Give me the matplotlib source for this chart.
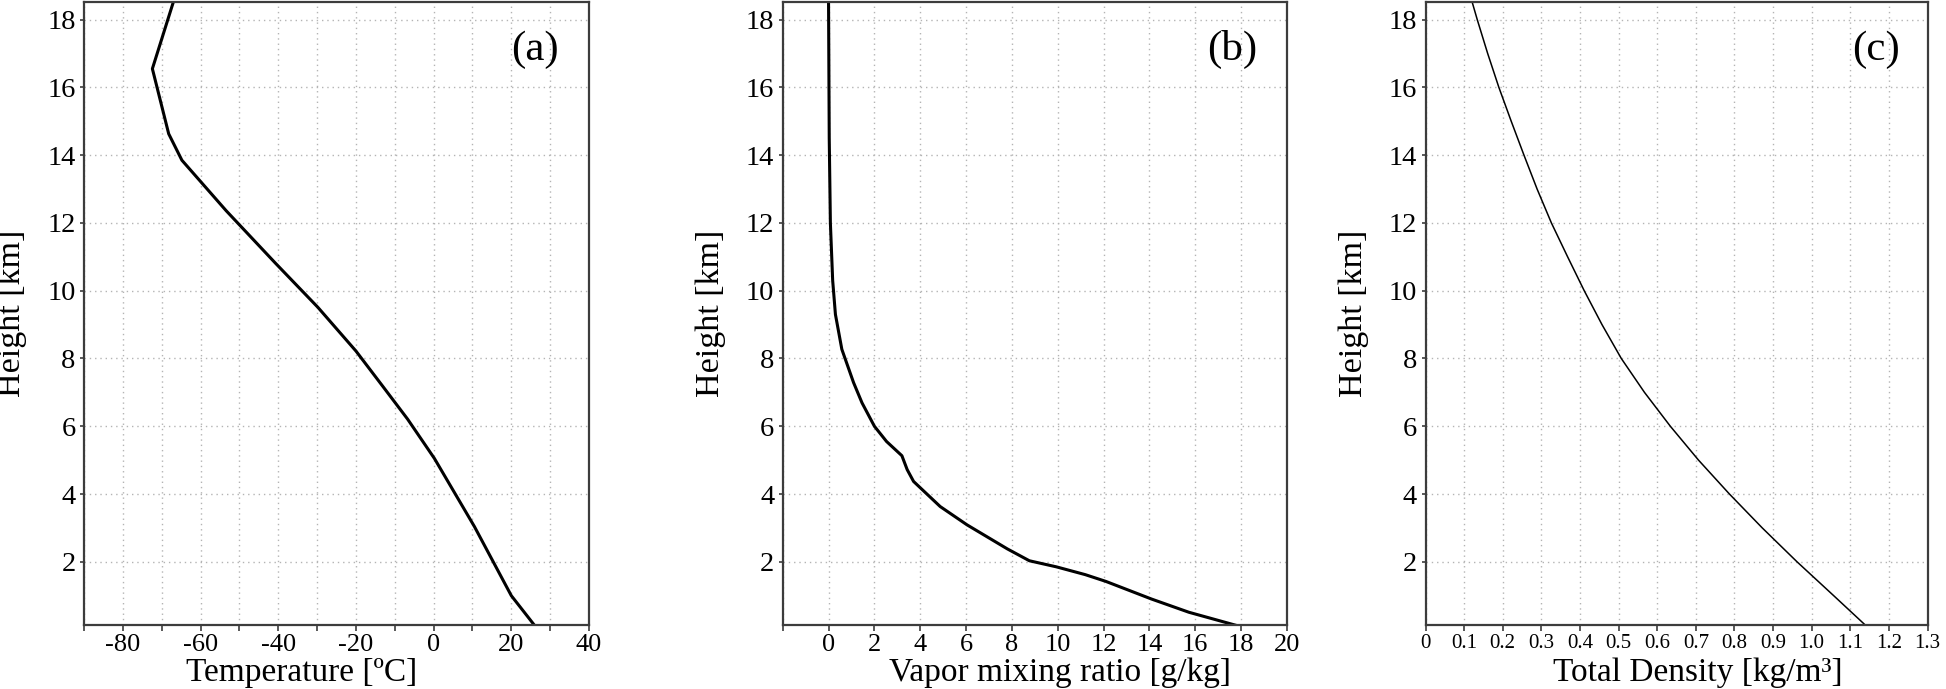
"""Three atmospheric sounding profiles: temperature, vapor mixing ratio, total density vs height."""

import matplotlib
matplotlib.use("Agg")
import matplotlib.pyplot as plt
from matplotlib.ticker import FuncFormatter

# ---- data ------------------------------------------------------------------
# (a) temperature profile
temp_height_km = [0.12, 1.0, 3.04, 5.05, 6.21, 7.18, 8.22, 9.51, 10.81, 12.36,
                  13.85, 14.63, 16.55, 18.52]
temp_c = [26.0, 20.0, 10.5, 0.2, -6.7, -13.1, -20.0, -29.8, -40.7, -53.4,
          -64.8, -68.2, -72.4, -67.0]

# (b) vapor mixing ratio profile
vapor_height_km = [0.12, 0.51, 0.90, 1.42, 1.62, 1.85, 2.03, 2.38, 3.09, 3.63,
                   4.37, 4.72, 5.13, 5.55, 6.0, 6.69, 7.29, 8.27, 9.3, 10.3,
                   12.0, 14.5, 18.52]
vapor_gkg = [17.8, 15.72, 14.09, 12.1, 11.2, 9.94, 8.76, 7.8, 6.04, 4.87,
             3.71, 3.43, 3.2, 2.53, 2.0, 1.46, 1.09, 0.58, 0.3, 0.18,
             0.08, 0.03, 0.0]

# (c) total density profile
dens_height_km = [0.12, 1.0, 2.0, 3.0, 4.0, 5.0, 6.0, 7.0, 8.0, 9.0, 10.0,
                  11.0, 12.0, 13.0, 14.0, 15.0, 16.0, 17.0, 18.0, 18.55]
dens_kgm3 = [1.140, 1.057, 0.962, 0.872, 0.787, 0.707, 0.634, 0.567, 0.507, 0.457,
             0.411, 0.368, 0.326, 0.289, 0.255, 0.222, 0.190, 0.161, 0.134, 0.120]

height_ticks = [2, 4, 6, 8, 10, 12, 14, 16, 18]
temp_ticks = [-90, -80, -70, -60, -50, -40, -30, -20, -10, 0, 10, 20, 30, 40]
vapor_ticks = [-2, 0, 2, 4, 6, 8, 10, 12, 14, 16, 18, 20]
dens_ticks = [0, 0.1, 0.2, 0.3, 0.4, 0.5, 0.6, 0.7, 0.8, 0.9, 1.0, 1.1, 1.2, 1.3]

plt.rcParams["font.family"] = ["Liberation Serif", "DejaVu Serif"]
SPINE = "#3c3c3c"


def _style(ax, xlim, xticks, fmt, xlabel, xlabel_x, letter, letter_x, xsize=19):
    ax.set_xlim(*xlim)
    ax.set_ylim(0.12, 18.52)
    ax.set_xticks(xticks)
    ax.xaxis.set_major_formatter(FuncFormatter(fmt))
    ax.set_yticks(height_ticks)
    ax.grid(True, color="#b4b4b4", linestyle=(0, (1, 2.8)), linewidth=1.0)
    ax.set_axisbelow(True)
    for sp in ax.spines.values():
        sp.set_color(SPINE)
        sp.set_linewidth(1.6)
    ax.tick_params(axis="x", direction="out", length=4.3, width=1.2, pad=2,
                   labelsize=xsize, color=SPINE)
    ax.tick_params(axis="y", direction="out", length=3, width=1.2, pad=3,
                   labelsize=20.5, color=SPINE)
    # label sits tight under the tick labels, baseline placed by hand
    ax.set_xlabel(xlabel, fontsize=24)
    ax.xaxis.label.set_va("baseline")
    ax.xaxis.set_label_coords(xlabel_x, -0.089)
    ax.set_ylabel("Height [km]", fontsize=24.5)
    ax.yaxis.set_label_coords(-0.112, 0.5)
    ax.text(letter_x, 0.924, letter, transform=ax.transAxes, fontsize=31,
            ha="center", va="center")


fig = plt.figure(figsize=(19.46, 6.89), dpi=100)
bottom, height = 0.0922, 0.9049
ax_a = fig.add_axes([0.04317, bottom, 0.2595, height])
ax_b = fig.add_axes([0.40221, bottom, 0.25915, height])
ax_c = fig.add_axes([0.73253, bottom, 0.25797, height])

ax_a.plot(temp_c, temp_height_km, color="black", lw=2.2, solid_joinstyle="round")
_style(ax_a, (-90, 40), temp_ticks,
       lambda v, p: f"{v:.0f}" if v % 20 == 0 else "",
       "Temperature [ºC]", 0.43, "(a)", 0.892)

ax_b.plot(vapor_gkg, vapor_height_km, color="black", lw=2.2, solid_joinstyle="round")
_style(ax_b, (-2, 20), vapor_ticks,
       lambda v, p: f"{v:.0f}" if v >= 0 else "",
       "Vapor mixing ratio [g/kg]", 0.55, "(b)", 0.892)

ax_c.plot(dens_kgm3, dens_height_km, color="black", lw=1.1)
_style(ax_c, (0, 1.3), dens_ticks,
       lambda v, p: "0" if abs(v) < 1e-9 else f"{v:.1f}",
       "Total Density [kg/m³]", 0.542, "(c)", 0.897, xsize=15)

fig.savefig("out.png", dpi=100)
